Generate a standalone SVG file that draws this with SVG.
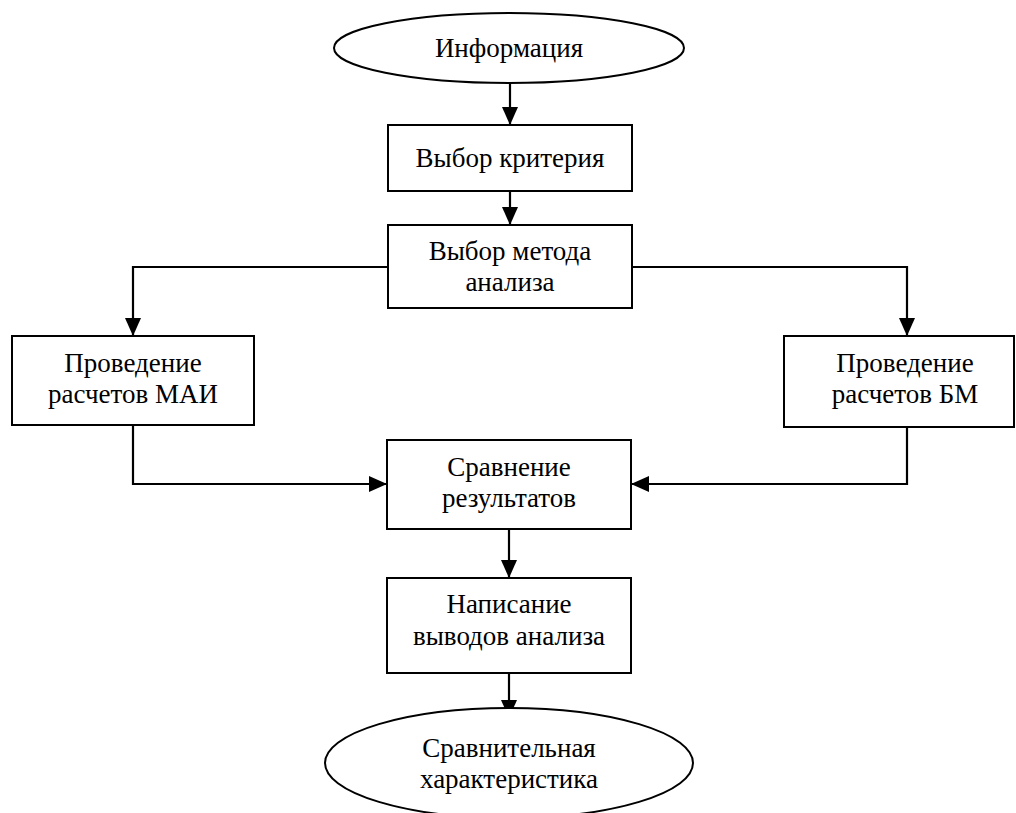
<svg xmlns="http://www.w3.org/2000/svg" width="1016" height="813" viewBox="0 0 1016 813">
  <style>
    .shape { fill: #fff; stroke: #000; stroke-width: 2; }
    .label { font-family: "Liberation Serif", "Times New Roman", serif; font-size: 27px; fill: #000; text-anchor: middle; }
    .conn { fill: none; stroke: #000; stroke-width: 2.2; }
  </style>
  <defs>
    <marker id="arrow" markerUnits="userSpaceOnUse" markerWidth="18" markerHeight="16" refX="18" refY="8" orient="auto">
      <path d="M0,0 L18,8 L0,16 Z" fill="#000"/>
    </marker>
  </defs>
  <rect width="1016" height="813" fill="#fff"/>

  <g id="connectors">
    <path class="conn" d="M510,83 V125" marker-end="url(#arrow)"/>
    <path class="conn" d="M510,191 V225" marker-end="url(#arrow)"/>
    <path class="conn" d="M388,267 H133 V336" marker-end="url(#arrow)"/>
    <path class="conn" d="M632,267 H907 V336" marker-end="url(#arrow)"/>
    <path class="conn" d="M133,425 V484 H387" marker-end="url(#arrow)"/>
    <path class="conn" d="M907,427 V484 H631" marker-end="url(#arrow)"/>
    <path class="conn" d="M509,529 V578" marker-end="url(#arrow)"/>
    <path class="conn" d="M509,673 V718" marker-end="url(#arrow)"/>
  </g>

  <g id="info">
    <ellipse class="shape" cx="509" cy="48" rx="175" ry="35"/>
    <text class="label" x="509" y="57">Информация</text>
  </g>

  <g id="criterion">
    <rect class="shape" x="388" y="125" width="244" height="66"/>
    <text class="label" x="510" y="167">Выбор критерия</text>
  </g>

  <g id="method">
    <rect class="shape" x="388" y="225" width="244" height="83"/>
    <text class="label" x="510" y="260">Выбор метода</text>
    <text class="label" x="510" y="291">анализа</text>
  </g>

  <g id="calc-mai">
    <rect class="shape" x="12" y="336" width="242" height="89"/>
    <text class="label" x="133" y="372">Проведение</text>
    <text class="label" x="133" y="403">расчетов  МАИ</text>
  </g>

  <g id="calc-bm">
    <rect class="shape" x="784" y="336" width="230" height="91"/>
    <text class="label" x="905" y="372">Проведение</text>
    <text class="label" x="905" y="403">расчетов БМ</text>
  </g>

  <g id="compare">
    <rect class="shape" x="387" y="440" width="244" height="89"/>
    <text class="label" x="509" y="476">Сравнение</text>
    <text class="label" x="509" y="507">результатов</text>
  </g>

  <g id="conclusions">
    <rect class="shape" x="387" y="578" width="244" height="95"/>
    <text class="label" x="509" y="613">Написание</text>
    <text class="label" x="509" y="645">выводов анализа</text>
  </g>

  <g id="result">
    <ellipse class="shape" cx="509" cy="763" rx="184" ry="55"/>
    <text class="label" x="509" y="757">Сравнительная</text>
    <text class="label" x="509" y="788">характеристика</text>
  </g>
</svg>
